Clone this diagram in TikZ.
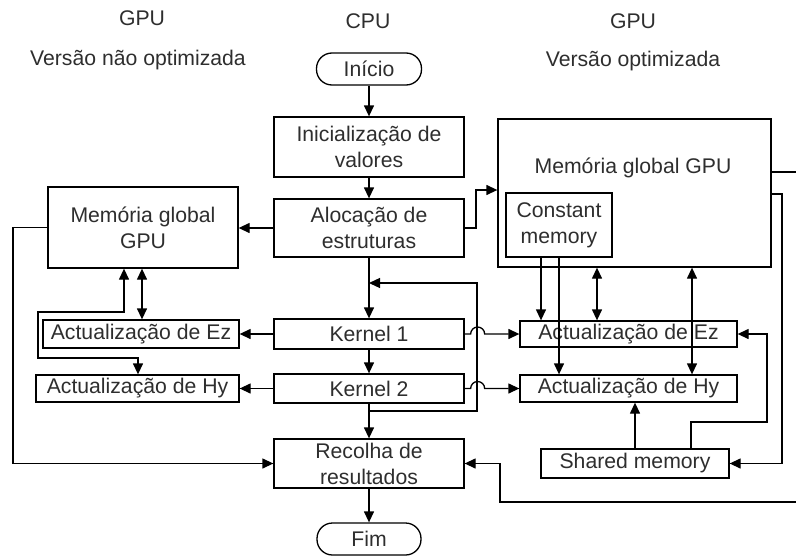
\documentclass[tikz,border=0pt]{standalone}
\usepackage{fontspec}
\setmainfont{Liberation Sans}
\usetikzlibrary{arrows.meta}

\begin{document}
\begin{tikzpicture}[
	x = 1pt, y = -1pt,
	font = \fontsize{21.2}{26}\selectfont,
	every node/.style = {text = black!82},
	box/.style = {draw, line width = 1.3pt, fill = white, inner sep = 0pt, align = center},
	term/.style = {box, rounded corners = 15.5pt},
	wire/.style = {line width = 1.3pt},
	flow/.style = {wire, -{Triangle[length = 11pt, width = 10pt]}},
	both/.style = {wire, {Triangle[length = 11pt, width = 10pt]}-{Triangle[length = 11pt, width = 10pt]}}
	]
	\clip (0,0) rectangle (796,557);

	\node[anchor = base] (tgpuA) at (142,25) {GPU};
	\node[anchor = base] (tverA) at (138,65) {Versão não optimizada};
	\node[anchor = base] (tcpu) at (368,28) {CPU};
	\node[anchor = base] (tgpuB) at (633,28) {GPU};
	\node[anchor = base] (tverB) at (633,66) {Versão optimizada};

	\node[term, minimum width = 105pt, minimum height = 32pt] (inicio) at (369,69) {Início};
	\node[box, minimum width = 190pt, minimum height = 60pt] (init) at (369,147) {Inicialização de\\valores};
	\node[box, minimum width = 190pt, minimum height = 58pt] (aloc) at (369,228) {Alocação de\\estruturas};
	\node[box, minimum width = 190pt, minimum height = 30pt] (k1) at (369,334) {Kernel 1};
	\node[box, minimum width = 190pt, minimum height = 29pt] (k2) at (369,388.5) {Kernel 2};
	\node[box, minimum width = 190pt, minimum height = 49pt] (recolha) at (369,463.5) {Recolha de\\resultados};
	\node[term, minimum width = 104pt, minimum height = 32pt] (fim) at (369,539) {Fim};

	\node[box, minimum width = 190pt, minimum height = 81pt] (gmemA) at (143,227.5) {Memória global\\GPU};
	\node[box, minimum width = 196pt, minimum height = 28pt] (ezA) at (141,334) {Actualização de Ez};
	\node[box, minimum width = 203pt, minimum height = 27pt] (hyA) at (137.5,388.5) {Actualização de Hy};

	\node[box, minimum width = 273pt, minimum height = 148pt] (gmemB) at (634.5,193) {};
	\node[anchor = base] (gmemBt) at (633,173) {Memória global GPU};
	\node[box, minimum width = 106pt, minimum height = 64pt] (cmem) at (559,225) {Constant\\memory};
	\node[box, minimum width = 217pt, minimum height = 26pt] (ezB) at (628.5,334) {Actualização de Ez};
	\node[box, minimum width = 217pt, minimum height = 27pt] (hyB) at (628.5,388.5) {Actualização de Hy};
	\node[box, minimum width = 188pt, minimum height = 29pt] (shm) at (635,463.5) {Shared memory};

	\draw[flow] (inicio.south) -- (init.north);
	\draw[flow] (init.south) -- (aloc.north);
	\draw[flow] (aloc.south) -- (k1.north);
	\draw[flow] (k1.south) -- (k2.north);
	\draw[flow] (k2.south) -- (recolha.north);
	\draw[flow] (recolha.south) -- (fim.north);

	\coordinate (loopB) at (477,411);
	\coordinate (loopT) at (477,283);
	\draw[flow] (k2.south |- loopB) -- (loopB) -- (loopT) -- (loopT -| k1.north);

	\coordinate (jog) at (476,190);
	\draw[flow] (aloc.east) -| (jog) -- (jog -| gmemB.west);

	\draw[flow] (k1.east) -- ++(6,0) arc[start angle = 180, end angle = 360, radius = 7] -- (ezB.west);
	\draw[flow] (k2.east) -- ++(6,0) arc[start angle = 180, end angle = 360, radius = 7] -- (hyB.west);

	\draw[flow] (aloc.west) -- (aloc.west -| gmemA.east);
	\draw[flow] (k1.west) -- (ezA.east);
	\draw[flow] (k2.west) -- (hyA.east);

	\coordinate (lx) at (142,0);
	\draw[both] (gmemA.south -| lx) -- (ezA.north -| lx);
	\coordinate (la1) at (124,312);
	\coordinate (la2) at (38,358);
	\coordinate (la3) at (138,358);
	\draw[both] (gmemA.south -| la1) -- (la1) -| (la2) -- (la3) -- (hyA.north -| la3);
	\coordinate (lo) at (13,0);
	\draw[flow] (gmemA.west) -- (gmemA.west -| lo) |- (recolha.west);

	\coordinate (c1) at (541,0);
	\draw[flow] (cmem.south -| c1) -- (ezB.north -| c1);
	\draw[flow] (cmem.south) -- (hyB.north -| cmem.south);
	\coordinate (c3) at (597,0);
	\draw[both] (gmemB.south -| c3) -- (ezB.north -| c3);
	\coordinate (c4) at (692,0);
	\draw[both] (gmemB.south -| c4) -- (hyB.north -| c4);

	\draw[flow] (shm.north) -- (hyB.south -| shm.north);
	\coordinate (s1) at (691,422);
	\coordinate (s2) at (767,422);
	\draw[flow] (shm.north -| s1) -- (s1) -- (s2) |- (ezB.east);
	\coordinate (r1) at (782,194);
	\draw[flow] (r1 -| gmemB.east) -- (r1) |- (shm.east);
	\coordinate (r2) at (800,172);
	\coordinate (r3) at (500,502);
	\draw[flow] (r2 -| gmemB.east) -- (r2) |- (r3) |- (recolha.east);
\end{tikzpicture}
\end{document}
